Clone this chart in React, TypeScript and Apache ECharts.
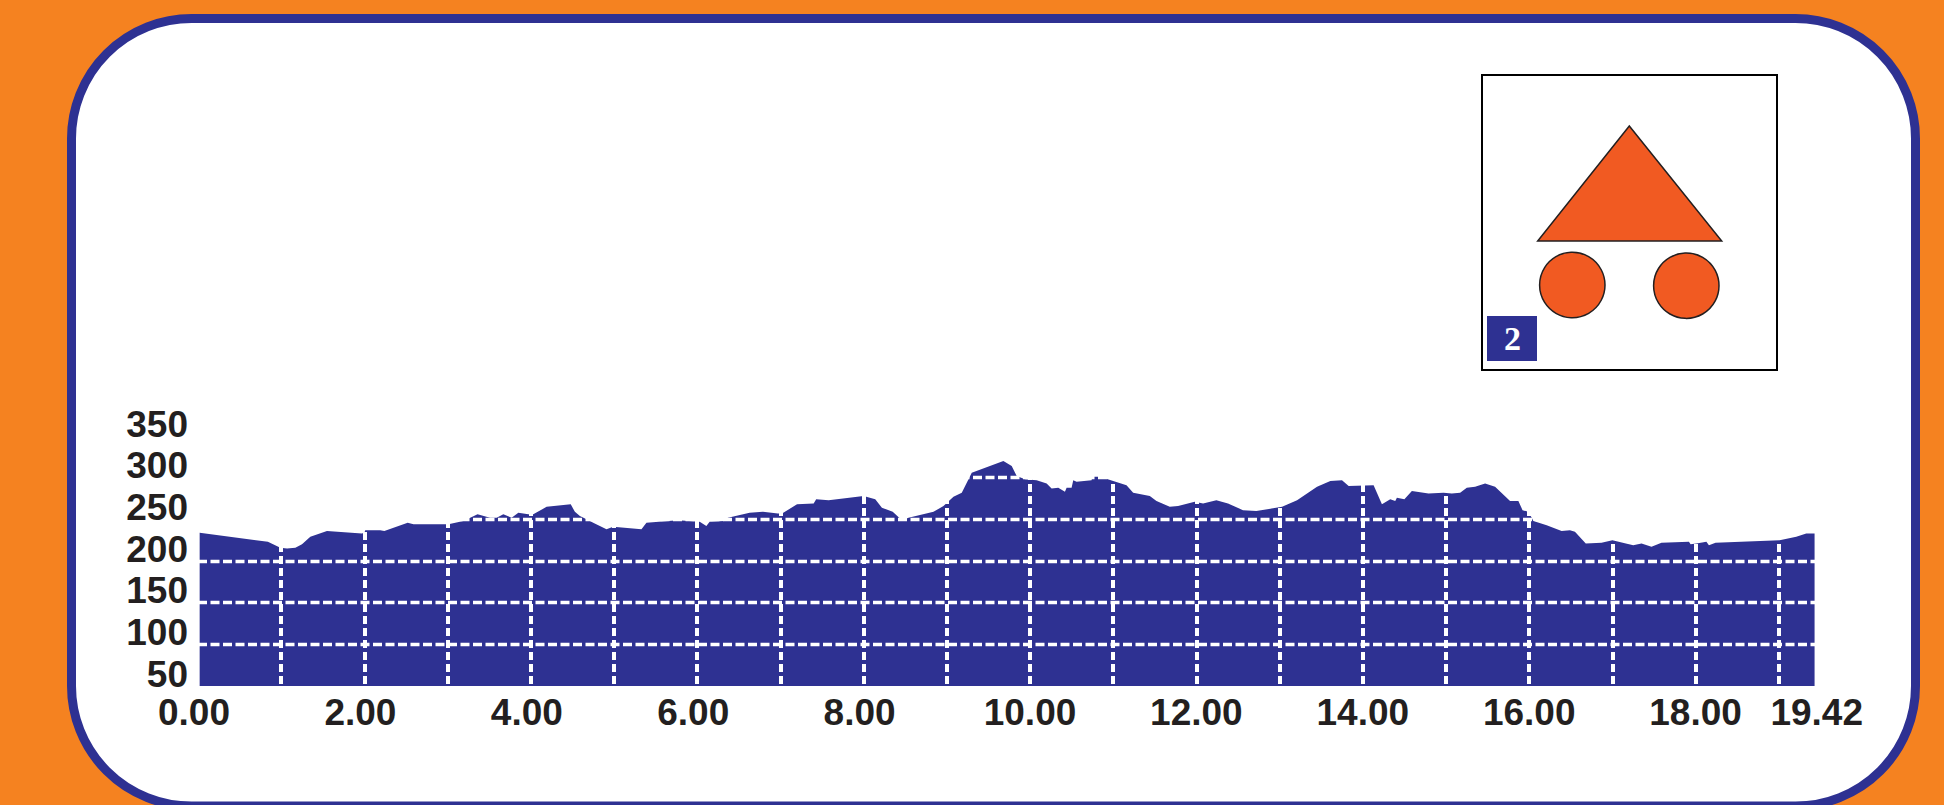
import React, { useEffect, useRef } from "react";
import * as echarts from "echarts";

const distanceKm = [
  0.02, 0.84, 0.99, 1.07, 1.17, 1.25, 1.35, 1.55, 1.97, 2.0, 2.01, 2.19, 2.24, 2.52, 2.59, 3.01, 3.19, 3.36, 3.51, 3.59,
  3.67, 3.77, 3.85, 3.97, 4.03, 4.19, 4.48, 4.53, 4.59, 4.67, 4.75, 4.91, 4.99, 5.33, 5.39, 5.77, 6.03, 6.11, 6.15, 6.33,
  6.37, 6.63, 6.79, 6.97, 7.02, 7.2, 7.4, 7.43, 7.58, 8.0, 8.14, 8.22, 8.35, 8.46, 8.54, 8.84, 8.96, 9.08, 9.18, 9.3,
  9.68, 9.78, 9.84, 9.94, 10.08, 10.2, 10.26, 10.34, 10.42, 10.44, 10.5, 10.52, 10.56, 10.74, 10.75, 10.84, 11.0, 11.16, 11.24, 11.44,
  11.52, 11.68, 11.78, 11.98, 12.08, 12.24, 12.38, 12.56, 12.72, 13.03, 13.21, 13.45, 13.61, 13.75, 13.83, 14.13, 14.23, 14.33, 14.39, 14.41,
  14.5, 14.59, 14.79, 14.97, 15.07, 15.17, 15.25, 15.35, 15.47, 15.59, 15.77, 15.87, 15.92, 15.99, 16.03, 16.05, 16.21, 16.39, 16.49, 16.55,
  16.68, 16.87, 17.0, 17.25, 17.35, 17.47, 17.59, 17.92, 17.94, 18.01, 18.13, 18.16, 18.24, 19.01, 19.21, 19.33, 19.43,
];
const altitudeM = [
  234, 223, 216, 215, 216, 220, 229, 236, 233, 234, 237, 237, 236, 246, 244, 244, 248, 256, 252, 252,
  256, 252, 258, 256, 256, 265, 268, 259, 254, 250, 246, 238, 241, 238, 246, 249, 247, 242, 247, 248,
  252, 258, 259, 257, 257, 268, 269, 274, 273, 278, 274, 264, 259, 249, 252, 259, 266, 277, 282, 306,
  320, 314, 302, 298, 297, 293, 287, 288, 283, 288, 288, 297, 295, 297, 301, 301, 296, 291, 282, 278,
  272, 265, 266, 271, 269, 273, 269, 261, 260, 265, 273, 289, 296, 297, 290, 291, 268, 274, 272, 276,
  274, 284, 281, 282, 281, 282, 288, 289, 293, 289, 272, 272, 261, 259, 252, 248, 243, 236, 237, 235,
  221, 222, 225, 219, 221, 217, 222, 223, 220, 221, 223, 219, 222, 225, 229, 233, 233,
];
const xLabelValues = [0, 2, 4, 6, 8, 10, 12, 14, 16, 18, 19.42];
const yLabelValues = [50, 100, 150, 200, 250, 300, 350];
const stageNumber = "2";

const NAVY = "#2e3192";
const ORANGE = "#f58220";
const RED_ORANGE = "#f15a22";
const INK = "#231f20";

export default function App() {
  const ref = useRef<HTMLDivElement>(null);

  useEffect(() => {
    const chart = echarts.init(ref.current!, null, { renderer: "svg" });
    const labelFont = { fontFamily: "Liberation Sans", fontWeight: "bold" as const, fontSize: 37, color: INK };
    chart.setOption({
      animation: false,
      backgroundColor: ORANGE,
      grid: { left: 198, top: 436, width: 1617.4, height: 250, containLabel: false },
      xAxis: {
        type: "value",
        min: 0,
        max: 19.44,
        interval: 1,
        z: 3,
        axisLine: { show: false },
        axisTick: { show: false },
        splitLine: {
          show: true,
          showMinLine: false,
          showMaxLine: false,
          lineStyle: { color: "#ffffff", width: 4, type: [8, 4] },
        },
        axisLabel: {
          ...labelFont,
          margin: 8,
          customValues: xLabelValues,
          formatter: (v: number) => {
            const text = v.toFixed(2);
            if (v === 19.42) return `{last|${text}}`;
            return v < 10 ? `{short|${text}}` : text;
          },
          rich: {
            short: { ...labelFont, padding: [0, 8, 0, 0] },
            last: { ...labelFont, padding: [0, 0, 0, 6] },
          },
        },
      },
      yAxis: {
        type: "value",
        min: 50,
        max: 350,
        interval: 50,
        z: 3,
        axisLine: { show: false },
        axisTick: { show: false },
        splitLine: {
          show: true,
          showMinLine: false,
          showMaxLine: false,
          lineStyle: { color: "#ffffff", width: 3.4, type: [9, 3.5] },
        },
        axisLabel: {
          ...labelFont,
          margin: 10,
          verticalAlign: "bottom",
          lineHeight: 24,
          customValues: yLabelValues,
        },
      },
      series: [
        {
          type: "line",
          z: 2,
          showSymbol: false,
          silent: true,
          lineStyle: { width: 0 },
          itemStyle: { color: NAVY },
          areaStyle: { color: NAVY, opacity: 1, origin: "start" },
          data: distanceKm.map((d, i) => [d, altitudeM[i]]),
        },
      ],
      graphic: [
        {
          type: "rect",
          z: -1,
          silent: true,
          shape: { x: 71.5, y: 18.5, width: 1844, height: 787.5, r: 120 },
          style: { fill: "#ffffff", stroke: NAVY, lineWidth: 9 },
        },
        {
          type: "rect",
          z: 5,
          silent: true,
          shape: { x: 1482, y: 75, width: 295, height: 295 },
          style: { fill: "#ffffff", stroke: "#000000", lineWidth: 2 },
        },
        {
          type: "polygon",
          z: 6,
          silent: true,
          shape: { points: [[1629.3, 126], [1537.7, 241], [1721.7, 241]] },
          style: { fill: RED_ORANGE, stroke: INK, lineWidth: 1.5 },
        },
        {
          type: "circle",
          z: 6,
          silent: true,
          shape: { cx: 1572.3, cy: 285, r: 32.7 },
          style: { fill: RED_ORANGE, stroke: INK, lineWidth: 1.5 },
        },
        {
          type: "circle",
          z: 6,
          silent: true,
          shape: { cx: 1686.3, cy: 285.7, r: 32.7 },
          style: { fill: RED_ORANGE, stroke: INK, lineWidth: 1.5 },
        },
        {
          type: "rect",
          z: 6,
          silent: true,
          shape: { x: 1487, y: 316, width: 50, height: 45 },
          style: { fill: NAVY },
        },
        {
          type: "text",
          z: 7,
          silent: true,
          x: 1512.5,
          y: 338.5,
          style: {
            text: stageNumber,
            fill: "#ffffff",
            font: 'bold 34px "Liberation Serif"',
            align: "center",
            verticalAlign: "middle",
          },
        },
      ],
    });
    return () => chart.dispose();
  }, []);

  return <div ref={ref} style={{ position: "fixed", left: 0, top: 0, width: 1944, height: 805 }} />;
}
